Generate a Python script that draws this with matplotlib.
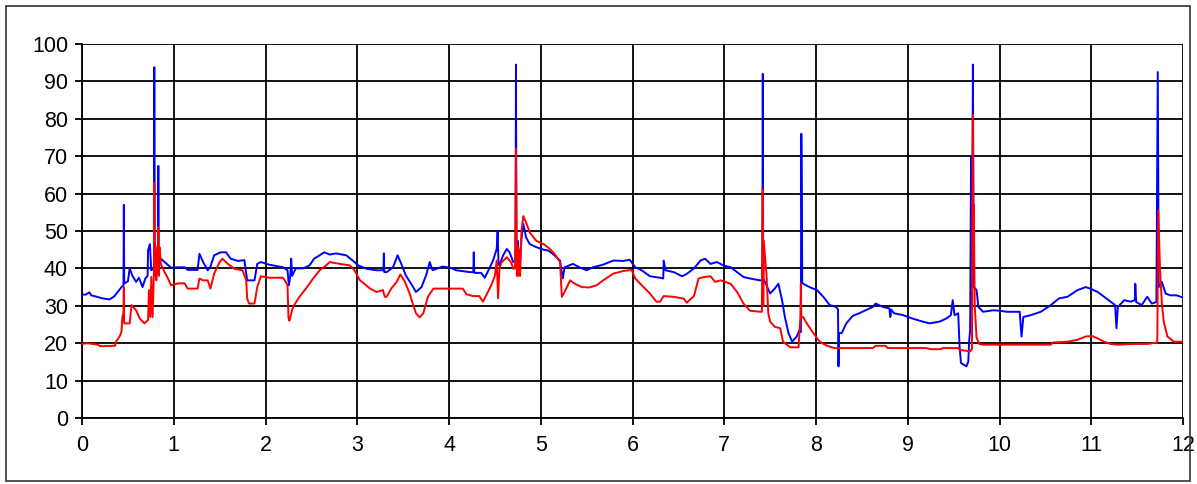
import matplotlib
matplotlib.use("Agg")
import matplotlib.pyplot as plt
from matplotlib.patches import Rectangle

blue_x = [0.00, 0.04, 0.08, 0.10, 0.15, 0.22, 0.30, 0.35, 0.39, 0.43, 0.452, 0.456, 0.460, 0.50, 0.52,
          0.55, 0.59, 0.62, 0.66, 0.69, 0.715, 0.72, 0.74, 0.755, 0.785, 0.788, 0.792, 0.81, 0.828,
          0.832, 0.836, 0.86, 0.90, 0.97, 1.05, 1.12, 1.15, 1.26, 1.28, 1.32, 1.37, 1.40, 1.44, 1.51,
          1.57, 1.62, 1.70, 1.77, 1.79, 1.80, 1.88, 1.91, 1.95, 2.04, 2.19, 2.24, 2.255, 2.27, 2.28,
          2.29, 2.33, 2.41, 2.48, 2.53, 2.59, 2.64, 2.70, 2.77, 2.88, 2.95, 3.01, 3.10, 3.21, 3.285,
          3.29, 3.295, 3.32, 3.39, 3.44, 3.48, 3.53, 3.61, 3.64, 3.70, 3.75, 3.79, 3.82, 3.93, 4.01,
          4.08, 4.23, 4.265, 4.27, 4.275, 4.35, 4.39, 4.44, 4.48, 4.52, 4.53, 4.54, 4.55, 4.59, 4.63,
          4.66, 4.70, 4.725, 4.73, 4.735, 4.75, 4.77, 4.79, 4.81, 4.84, 4.88, 4.95, 5.03, 5.08, 5.13,
          5.21, 5.235, 5.24, 5.26, 5.35, 5.43, 5.50, 5.57, 5.68, 5.79, 5.90, 5.97, 6.03, 6.10, 6.19,
          6.30, 6.335, 6.34, 6.36, 6.45, 6.54, 6.59, 6.67, 6.74, 6.79, 6.85, 6.92, 6.99, 7.07, 7.14,
          7.21, 7.28, 7.39, 7.415, 7.42, 7.425, 7.46, 7.50, 7.55, 7.59, 7.63, 7.66, 7.70, 7.74, 7.79,
          7.82, 7.835, 7.84, 7.845, 7.85, 7.86, 7.93, 8.01, 8.08, 8.15, 8.22, 8.24, 8.245, 8.25, 8.28,
          8.33, 8.40, 8.47, 8.54, 8.62, 8.65, 8.73, 8.80, 8.81, 8.82, 8.85, 8.95, 9.05, 9.16, 9.24,
          9.35, 9.42, 9.47, 9.49, 9.51, 9.55, 9.565, 9.58, 9.64, 9.66, 9.67, 9.68, 9.69, 9.695, 9.70,
          9.71, 9.72, 9.75, 9.77, 9.82, 9.93, 10.00, 10.08, 10.22, 10.24, 10.26, 10.34, 10.45, 10.56,
          10.65, 10.74, 10.85, 10.94, 10.99, 11.07, 11.14, 11.21, 11.26, 11.275, 11.29, 11.36, 11.43,
          11.475, 11.48, 11.49, 11.55, 11.61, 11.66, 11.71, 11.725, 11.735, 11.77, 11.81, 11.86,
          11.93, 12.00]
blue_y = [33.0, 33.0, 33.6, 32.8, 32.5, 32.0, 31.7, 32.5, 33.7, 35.0, 35.5, 57.0, 36.0, 36.5, 40.0,
          38.0, 36.4, 37.5, 35.0, 37.3, 38.0, 44.8, 46.5, 39.5, 40.0, 93.8, 40.0, 38.0, 40.0,
          67.4, 42.0, 42.6, 41.7, 40.2, 40.3, 40.3, 39.6, 39.6, 43.9, 41.7, 39.5, 40.5, 43.5, 44.3,
          44.3, 42.6, 42.0, 42.2, 38.6, 36.8, 36.8, 41.2, 41.7, 41.0, 40.3, 39.5, 35.5, 38.0, 42.6,
          38.0, 40.0, 40.0, 40.8, 42.6, 43.5, 44.3, 43.7, 44.0, 43.5, 42.1, 40.8, 39.9, 39.5, 39.5,
          44.0, 39.0, 39.0, 40.3, 43.5, 41.2, 38.1, 35.0, 33.7, 35.0, 38.1, 41.7, 39.5, 40.5, 40.2,
          39.5, 39.0, 39.0, 44.3, 38.8, 38.8, 37.5, 40.0, 42.1, 45.2, 50.0, 41.0, 40.8, 43.5, 45.2,
          44.3, 41.7, 42.0, 94.5, 42.0, 47.4, 40.3, 48.0, 51.9, 48.3, 46.5, 45.7, 45.0, 44.8, 43.9,
          42.1, 38.0, 37.3, 40.3, 41.2, 40.2, 39.5, 40.3, 41.0, 42.1, 42.0, 42.3, 40.3, 39.5, 37.9,
          37.5, 37.3, 42.1, 39.5, 39.0, 37.9, 38.5, 40.0, 42.1, 42.6, 41.2, 41.7, 40.8, 40.3, 39.0,
          37.7, 37.3, 36.8, 36.8, 92.0, 37.3, 35.5, 33.3, 34.6, 35.9, 31.5, 27.1, 22.7, 20.4, 21.8,
          23.5, 23.0, 76.0, 60.0, 36.0, 35.9, 35.0, 34.2, 32.4, 30.2, 29.7, 29.0, 13.8, 22.7, 22.7,
          25.3, 27.3, 28.0, 28.8, 29.7, 30.6, 29.7, 29.3, 27.0, 29.0, 28.0, 27.5, 26.6, 25.8, 25.3,
          25.8, 26.6, 27.5, 31.5, 27.5, 28.0, 19.1, 14.7, 13.8, 15.1, 20.9, 23.5, 70.0, 47.6, 30.0,
          94.5, 35.0, 34.2, 29.7, 28.4, 28.8, 28.7, 28.4, 28.4, 21.8, 27.0, 27.5, 28.4, 30.2,
          32.0, 32.4, 34.2, 35.0, 34.6, 33.7, 32.4, 31.1, 30.2, 24.0, 29.7, 31.5, 31.1,
          31.5, 35.9, 31.0, 30.2, 32.4, 30.6, 31.0, 92.5, 35.0, 36.4, 33.3, 32.8,
          32.8, 32.2]

red_x = [0.00, 0.06, 0.17, 0.20, 0.36, 0.37, 0.41, 0.43, 0.44, 0.452, 0.456, 0.46, 0.52, 0.54, 0.59,
         0.63, 0.68, 0.72, 0.73, 0.745, 0.755, 0.77, 0.785, 0.788, 0.792, 0.80, 0.81, 0.82, 0.828,
         0.832, 0.84, 0.845, 0.86, 0.90, 0.93, 0.97, 1.05, 1.12, 1.15, 1.26, 1.28, 1.32, 1.37, 1.40,
         1.44, 1.50, 1.53, 1.59, 1.66, 1.75, 1.79, 1.80, 1.82, 1.88, 1.91, 1.95, 2.04, 2.19, 2.22,
         2.24, 2.25, 2.26, 2.30, 2.37, 2.44, 2.52, 2.59, 2.66, 2.70, 2.81, 2.92, 2.97, 3.03, 3.14,
         3.21, 3.28, 3.30, 3.32, 3.37, 3.43, 3.47, 3.52, 3.57, 3.61, 3.64, 3.68, 3.72, 3.77, 3.83,
         4.15, 4.19, 4.26, 4.33, 4.37, 4.41, 4.46, 4.50, 4.52, 4.535, 4.55, 4.57, 4.63, 4.68, 4.70,
         4.72, 4.73, 4.74, 4.745, 4.755, 4.765, 4.775, 4.79, 4.81, 4.84, 4.88, 4.95, 5.03, 5.10,
         5.15, 5.21, 5.23, 5.26, 5.32, 5.37, 5.45, 5.53, 5.61, 5.68, 5.79, 5.90, 5.99, 6.03, 6.10,
         6.19, 6.26, 6.30, 6.34, 6.45, 6.56, 6.59, 6.67, 6.72, 6.78, 6.85, 6.90, 6.96, 7.07, 7.14,
         7.21, 7.28, 7.39, 7.41, 7.42, 7.425, 7.43, 7.46, 7.48, 7.50, 7.55, 7.61, 7.64, 7.72, 7.81,
         7.83, 7.835, 7.84, 7.86, 7.90, 7.97, 8.04, 8.12, 8.20, 8.62, 8.65, 8.76, 8.78, 9.20, 9.25,
         9.36, 9.38, 9.55, 9.57, 9.68, 9.70, 9.705, 9.71, 9.715, 9.72, 9.73, 9.75, 9.78, 9.82,
         10.56, 10.58, 10.74, 10.85, 10.94, 11.01, 11.07, 11.14, 11.21, 11.28, 11.46, 11.61, 11.72,
         11.73, 11.75, 11.77, 11.79, 11.83, 11.90, 12.00]
red_y = [19.8, 20.0, 19.6, 19.2, 19.3, 20.4, 21.8, 23.0, 27.0, 28.0, 35.0, 25.3, 25.3, 30.2, 28.8,
         26.6, 25.3, 26.2, 34.2, 27.0, 37.7, 27.0, 40.0, 62.9, 38.0, 46.0, 36.8, 45.0, 40.0,
         51.0, 38.0, 45.7, 41.2, 39.0, 37.7, 35.5, 36.0, 36.0, 34.6, 34.6, 37.3, 36.8, 36.8, 34.6,
         38.6, 41.7, 42.6, 41.2, 39.9, 39.5, 36.8, 32.0, 30.6, 30.6, 35.0, 37.9, 37.5, 37.5, 36.4,
         35.5, 27.0, 26.0, 29.7, 32.4, 34.6, 37.3, 39.5, 40.8, 41.7, 41.2, 40.8, 39.5, 36.8, 34.6,
         33.7, 34.2, 32.4, 32.4, 34.6, 36.4, 38.4, 36.4, 33.3, 30.2, 28.0, 26.9, 28.0, 32.4, 34.6,
         34.6, 33.1, 32.6, 32.6, 31.1, 33.0, 35.5, 38.0, 42.1, 32.0, 40.0, 41.5, 43.0, 41.5, 39.9,
         40.0, 72.0, 38.0, 46.0, 38.0, 45.0, 38.0, 50.0, 54.0, 52.3, 49.6, 47.4, 46.5, 45.2,
         43.9, 41.7, 32.4, 33.7, 36.8, 35.9, 35.0, 34.9, 35.5, 36.8, 38.6, 39.3, 39.6, 37.3, 35.5,
         33.3, 31.1, 31.1, 32.6, 32.4, 31.9, 30.8, 32.6, 37.3, 37.7, 37.9, 36.4, 36.8, 35.9, 33.7,
         30.6, 28.7, 28.4, 28.4, 61.0, 30.0, 47.4, 38.6, 28.0, 25.8, 24.4, 24.0, 20.4, 18.9, 18.9,
         27.0, 36.0, 27.0, 27.0, 25.3, 22.7, 20.4, 19.3, 18.7, 18.7, 19.3, 19.3, 18.7, 18.7, 18.4,
         18.4, 18.7, 18.7, 18.2, 17.8, 18.5, 60.0, 81.0, 47.0, 57.0, 30.0, 21.5, 19.8, 19.6,
         19.6, 20.2, 20.4, 20.9, 21.8, 21.9, 21.3, 20.4, 19.8, 19.6, 19.8, 19.8, 20.2,
         55.5, 39.5, 30.6, 25.8, 21.8, 20.4, 20.4]

x_ticks = list(range(0, 13))
y_ticks = list(range(0, 101, 10))

plt.rcParams['font.family'] = ['Liberation Sans', 'DejaVu Sans']

W, H = 1197, 484
fig = plt.figure(figsize=(W / 100, H / 100), dpi=100)
fig.patch.set_facecolor('white')
fig.patches.append(Rectangle((6 / W, 3 / H), (1190 - 6) / W, (478 - 3) / H,
                             transform=fig.transFigure, fill=False,
                             edgecolor='#333333', linewidth=1.2))

ax = fig.add_axes([82 / W, (484 - 418) / H, (1183 - 82) / W, (418 - 44) / H])
ax.plot(blue_x, blue_y, color='#0000FF', linewidth=1.4, zorder=3)
ax.plot(red_x, red_y, color='#FF0000', linewidth=1.4, zorder=4)

ax.set_xlim(0, 12)
ax.set_ylim(0, 100)
ax.set_xticks(x_ticks)
ax.set_yticks(y_ticks)
ax.grid(True, color='black', linewidth=1.3)
ax.set_axisbelow(True)
for s in ax.spines.values():
    s.set_visible(False)
ax.spines['left'].set_visible(True)
ax.spines['bottom'].set_visible(True)
ax.spines['left'].set_linewidth(1.3)
ax.spines['bottom'].set_linewidth(1.3)
ax.tick_params(axis='both', direction='out', length=5, width=1.3, color='black',
               labelsize=15.5, labelcolor='black')
ax.tick_params(axis='y', pad=5)
ax.tick_params(axis='x', pad=7)

fig.savefig('out.png', dpi=100, facecolor='white')
